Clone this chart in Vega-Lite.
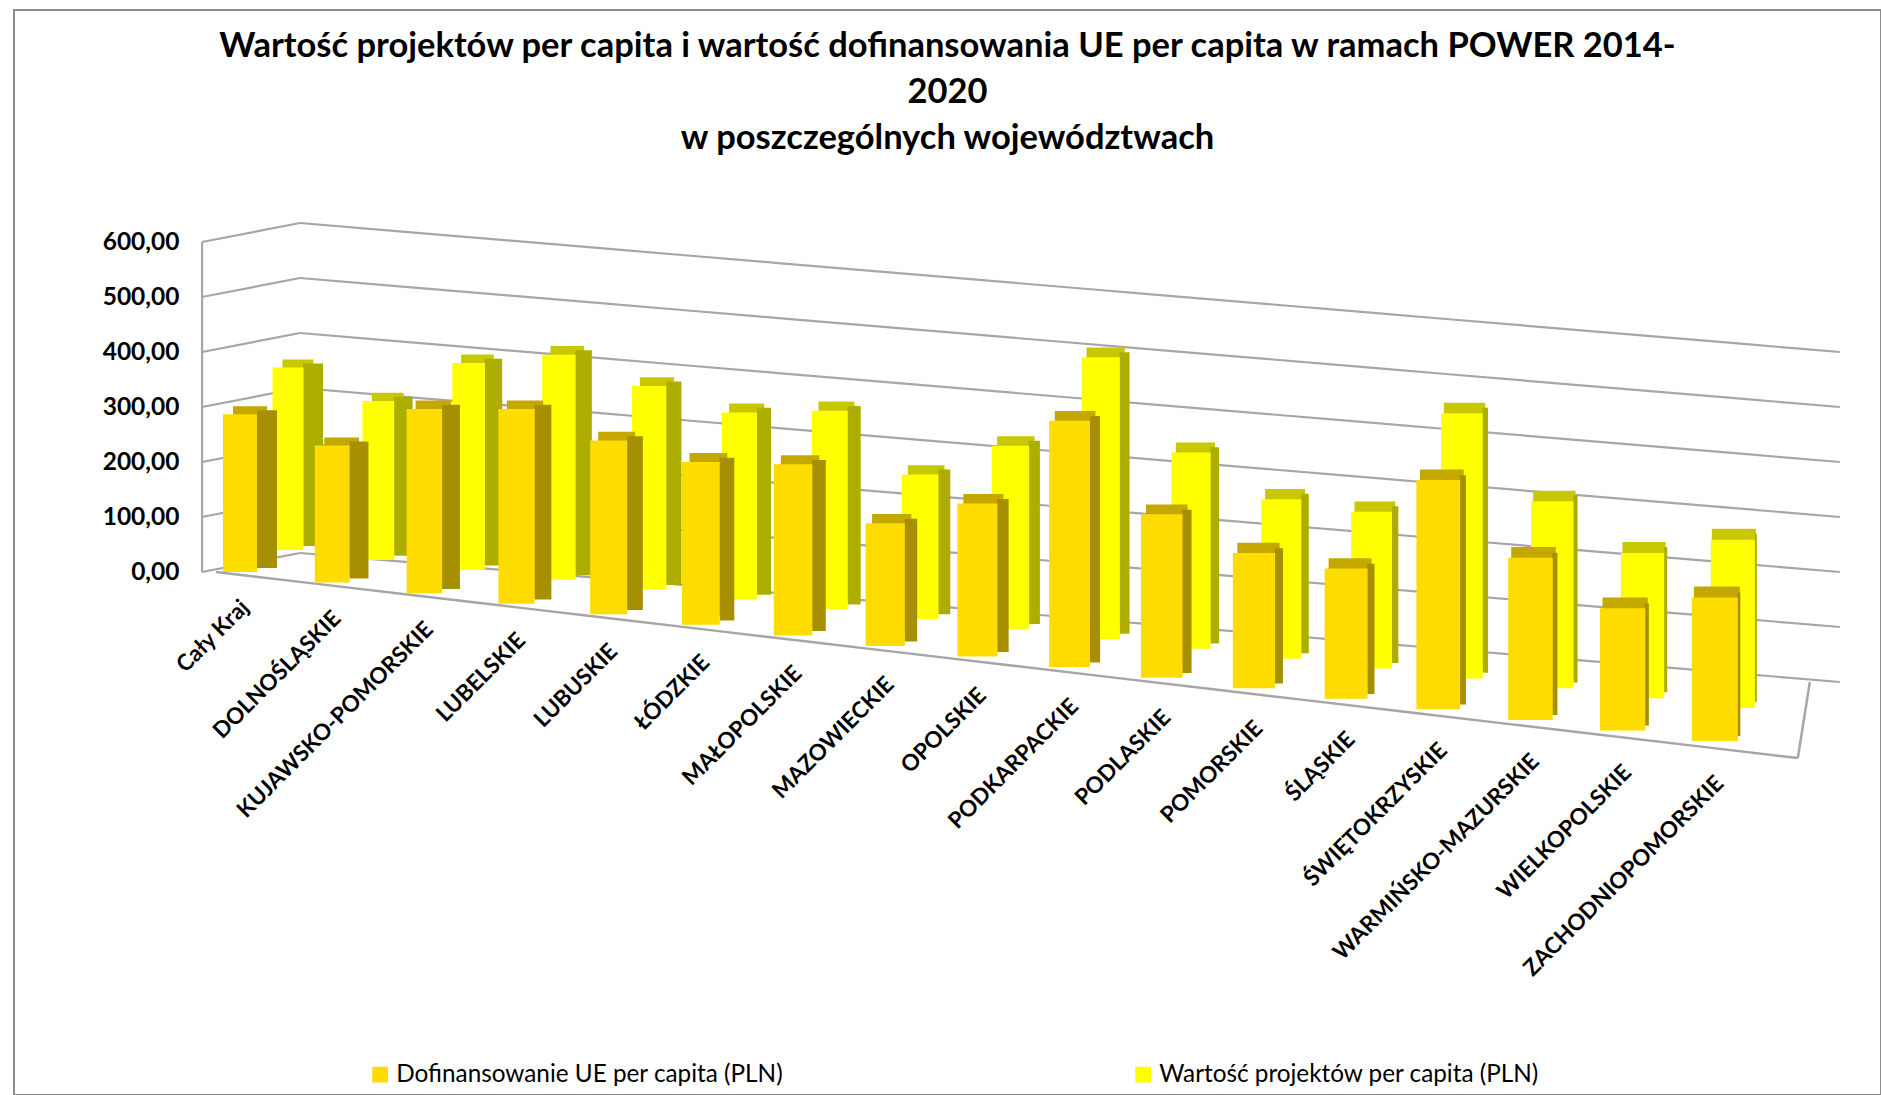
{"$schema":"https://vega.github.io/schema/vega-lite/v6.json","autosize":"none","width":1867,"height":1085,"padding":{"left":14,"top":10,"right":0,"bottom":0},"background":"white","config":{"view":{"stroke":"#8c8c8c","strokeWidth":2},"font":"Lato"},"title":{"text":["Wartość projektów per capita i wartość dofinansowania UE per capita w ramach POWER 2014-","2020","w poszczególnych województwach"],"fontSize":34.5,"font":"Lato","fontWeight":"bold","color":"#000000","lineHeight":46,"anchor":"middle","baseline":"top","offset":-146},"datasets":{"d":[{"w":"Cały Kraj","s":"Dofinansowanie UE per capita (PLN)","od":0,"v":287},{"w":"DOLNOŚLĄSKIE","s":"Dofinansowanie UE per capita (PLN)","od":0,"v":249},{"w":"KUJAWSKO-POMORSKIE","s":"Dofinansowanie UE per capita (PLN)","od":0,"v":335},{"w":"LUBELSKIE","s":"Dofinansowanie UE per capita (PLN)","od":0,"v":354},{"w":"LUBUSKIE","s":"Dofinansowanie UE per capita (PLN)","od":0,"v":316},{"w":"ŁÓDZKIE","s":"Dofinansowanie UE per capita (PLN)","od":0,"v":296},{"w":"MAŁOPOLSKIE","s":"Dofinansowanie UE per capita (PLN)","od":0,"v":311},{"w":"MAZOWIECKIE","s":"Dofinansowanie UE per capita (PLN)","od":0,"v":223},{"w":"OPOLSKIE","s":"Dofinansowanie UE per capita (PLN)","od":0,"v":278},{"w":"PODKARPACKIE","s":"Dofinansowanie UE per capita (PLN)","od":0,"v":448},{"w":"PODLASKIE","s":"Dofinansowanie UE per capita (PLN)","od":0,"v":297},{"w":"POMORSKIE","s":"Dofinansowanie UE per capita (PLN)","od":0,"v":246},{"w":"ŚLĄSKIE","s":"Dofinansowanie UE per capita (PLN)","od":0,"v":237},{"w":"ŚWIĘTOKRZYSKIE","s":"Dofinansowanie UE per capita (PLN)","od":0,"v":417},{"w":"WARMIŃSKO-MAZURSKIE","s":"Dofinansowanie UE per capita (PLN)","od":0,"v":295},{"w":"WIELKOPOLSKIE","s":"Dofinansowanie UE per capita (PLN)","od":0,"v":222},{"w":"ZACHODNIOPOMORSKIE","s":"Dofinansowanie UE per capita (PLN)","od":0,"v":261},{"w":"Cały Kraj","s":"Wartość projektów per capita (PLN)","od":0,"v":332},{"w":"DOLNOŚLĄSKIE","s":"Wartość projektów per capita (PLN)","od":0,"v":289},{"w":"KUJAWSKO-POMORSKIE","s":"Wartość projektów per capita (PLN)","od":0,"v":376},{"w":"LUBELSKIE","s":"Wartość projektów per capita (PLN)","od":0,"v":409},{"w":"LUBUSKIE","s":"Wartość projektów per capita (PLN)","od":0,"v":370},{"w":"ŁÓDZKIE","s":"Wartość projektów per capita (PLN)","od":0,"v":340},{"w":"MAŁOPOLSKIE","s":"Wartość projektów per capita (PLN)","od":0,"v":361},{"w":"MAZOWIECKIE","s":"Wartość projektów per capita (PLN)","od":0,"v":263},{"w":"OPOLSKIE","s":"Wartość projektów per capita (PLN)","od":0,"v":333},{"w":"PODKARPACKIE","s":"Wartość projektów per capita (PLN)","od":0,"v":512},{"w":"PODLASKIE","s":"Wartość projektów per capita (PLN)","od":0,"v":357},{"w":"POMORSKIE","s":"Wartość projektów per capita (PLN)","od":0,"v":290},{"w":"ŚLĄSKIE","s":"Wartość projektów per capita (PLN)","od":0,"v":285},{"w":"ŚWIĘTOKRZYSKIE","s":"Wartość projektów per capita (PLN)","od":0,"v":482},{"w":"WARMIŃSKO-MAZURSKIE","s":"Wartość projektów per capita (PLN)","od":0,"v":340},{"w":"WIELKOPOLSKIE","s":"Wartość projektów per capita (PLN)","od":0,"v":264},{"w":"ZACHODNIOPOMORSKIE","s":"Wartość projektów per capita (PLN)","od":0,"v":306}],"siatka":[{"p":"przod","l":0},{"p":"tyl","l":0},{"p":"przod","l":100},{"p":"tyl","l":100},{"p":"przod","l":200},{"p":"tyl","l":200},{"p":"przod","l":300},{"p":"tyl","l":300},{"p":"przod","l":400},{"p":"tyl","l":400},{"p":"przod","l":500},{"p":"tyl","l":500},{"p":"przod","l":600},{"p":"tyl","l":600}],"naroznik":[{"p":"przod"},{"p":"tyl"}]},"data":{"name":"d"},"resolve":{"scale":{"xOffset":"independent","yOffset":"independent","strokeWidth":"independent"}},"encoding":{"x":{"field":"w","type":"nominal","sort":null,"title":null,"scale":{"domain":["Cały Kraj","DOLNOŚLĄSKIE","KUJAWSKO-POMORSKIE","LUBELSKIE","LUBUSKIE","ŁÓDZKIE","MAŁOPOLSKIE","MAZOWIECKIE","OPOLSKIE","PODKARPACKIE","PODLASKIE","POMORSKIE","ŚLĄSKIE","ŚWIĘTOKRZYSKIE","WARMIŃSKO-MAZURSKIE","WIELKOPOLSKIE","ZACHODNIOPOMORSKIE"],"range":[180,1747],"paddingInner":0,"paddingOuter":0},"axis":null}},"layer":[
{"data":{"name":"siatka"},"mark":{"type":"line","color":"#a6a6a6","strokeWidth":2.2},"encoding":{"x":{"datum":"Cały Kraj"},"y":{"datum":{"expr":"datum.l"},"type":"quantitative","title":null,"scale":{"domain":[0,600],"range":[562,232],"nice":false},"axis":{"title":null,"values":[0,100,200,300,400,500,600],"orient":"left","offset":-167,"domain":false,"ticks":false,"grid":false,"labelExpr":"replace(format(datum.value,'.2f'),'.',',')","labelFont":"Lato","labelFontSize":24.5,"labelFontWeight":"bold","labelColor":"#000000"}},"detail":{"field":"l"},"xOffset":{"field":"p","type":"nominal","sort":null,"scale":{"type":"point","padding":0,"range":[8,106]}},"yOffset":{"field":"p","type":"nominal","sort":null,"scale":{"type":"point","padding":0,"range":[0,-19]}}}},
{"data":{"name":"siatka"},"transform":[{"filter":"datum.p=='przod'"}],"mark":{"type":"line","color":"#a6a6a6","strokeWidth":2.2,"xOffset":-38},"encoding":{"x":{"datum":"Cały Kraj"},"y":{"datum":{"expr":"datum.l"},"type":"quantitative","title":null}}},
{"data":{"name":"naroznik"},"mark":{"type":"line","color":"#a6a6a6","strokeWidth":2.5},"encoding":{"x":{"datum":"ZACHODNIOPOMORSKIE"},"y":{"datum":0,"type":"quantitative","title":null},"xOffset":{"field":"p","type":"nominal","sort":null,"scale":{"type":"point","padding":0,"range":[129,141]}},"yOffset":{"field":"p","type":"nominal","sort":null,"scale":{"type":"point","padding":0,"range":[186,110]}}}},
{"transform":[{"filter":"datum.s[0]=='D'"}],"mark":{"type":"line","color":"#a6a6a6","strokeWidth":2.2},"encoding":{"y":{"datum":0,"type":"quantitative","title":null},"xOffset":{"field":"w","type":"nominal","sort":null,"scale":{"type":"point","padding":0,"range":[106,171]}},"yOffset":{"field":"w","type":"nominal","sort":null,"scale":{"type":"point","padding":0,"range":[-19,110]}}}},
{"transform":[{"filter":"datum.s[0]=='D'"}],"mark":{"type":"line","color":"#a6a6a6","strokeWidth":2.2},"encoding":{"y":{"datum":100,"type":"quantitative","title":null},"xOffset":{"field":"w","type":"nominal","sort":null,"scale":{"type":"point","padding":0,"range":[106,171]}},"yOffset":{"field":"w","type":"nominal","sort":null,"scale":{"type":"point","padding":0,"range":[-19,110]}}}},
{"transform":[{"filter":"datum.s[0]=='D'"}],"mark":{"type":"line","color":"#a6a6a6","strokeWidth":2.2},"encoding":{"y":{"datum":200,"type":"quantitative","title":null},"xOffset":{"field":"w","type":"nominal","sort":null,"scale":{"type":"point","padding":0,"range":[106,171]}},"yOffset":{"field":"w","type":"nominal","sort":null,"scale":{"type":"point","padding":0,"range":[-19,110]}}}},
{"transform":[{"filter":"datum.s[0]=='D'"}],"mark":{"type":"line","color":"#a6a6a6","strokeWidth":2.2},"encoding":{"y":{"datum":300,"type":"quantitative","title":null},"xOffset":{"field":"w","type":"nominal","sort":null,"scale":{"type":"point","padding":0,"range":[106,171]}},"yOffset":{"field":"w","type":"nominal","sort":null,"scale":{"type":"point","padding":0,"range":[-19,110]}}}},
{"transform":[{"filter":"datum.s[0]=='D'"}],"mark":{"type":"line","color":"#a6a6a6","strokeWidth":2.2},"encoding":{"y":{"datum":400,"type":"quantitative","title":null},"xOffset":{"field":"w","type":"nominal","sort":null,"scale":{"type":"point","padding":0,"range":[106,171]}},"yOffset":{"field":"w","type":"nominal","sort":null,"scale":{"type":"point","padding":0,"range":[-19,110]}}}},
{"transform":[{"filter":"datum.s[0]=='D'"}],"mark":{"type":"line","color":"#a6a6a6","strokeWidth":2.2},"encoding":{"y":{"datum":500,"type":"quantitative","title":null},"xOffset":{"field":"w","type":"nominal","sort":null,"scale":{"type":"point","padding":0,"range":[106,171]}},"yOffset":{"field":"w","type":"nominal","sort":null,"scale":{"type":"point","padding":0,"range":[-19,110]}}}},
{"transform":[{"filter":"datum.s[0]=='D'"}],"mark":{"type":"line","color":"#a6a6a6","strokeWidth":2.2},"encoding":{"y":{"datum":600,"type":"quantitative","title":null},"xOffset":{"field":"w","type":"nominal","sort":null,"scale":{"type":"point","padding":0,"range":[106,171]}},"yOffset":{"field":"w","type":"nominal","sort":null,"scale":{"type":"point","padding":0,"range":[-19,110]}}}},
{"transform":[{"filter":"datum.s[0]=='D'"}],"mark":{"type":"line","color":"#a6a6a6","strokeWidth":2.5},"encoding":{"y":{"datum":0,"type":"quantitative","title":null},"xOffset":{"field":"w","type":"nominal","sort":null,"scale":{"type":"point","padding":0,"range":[22,129]}},"yOffset":{"field":"w","type":"nominal","sort":null,"scale":{"type":"point","padding":0,"range":[0,186]}}}},
{"transform":[{"filter":"datum.s[0]=='W'"},{"fold":["od","v"],"as":["k","y"]}],"mark":{"type":"line","color":"#C8C800"},"encoding":{"y":{"datum":{"expr":"datum.y"},"type":"quantitative","title":null},"detail":{"field":"w"},"strokeWidth":{"field":"w","type":"nominal","sort":null,"legend":null,"scale":{"type":"point","padding":0,"range":[31,44]}},"xOffset":{"field":"w","type":"nominal","sort":null,"scale":{"type":"point","padding":0,"range":[104,65]}},"yOffset":{"field":"w","type":"nominal","sort":null,"scale":{"type":"point","padding":0,"range":[-30,125]}}}},
{"transform":[{"filter":"datum.s[0]=='W'"},{"fold":["od","v"],"as":["k","y"]}],"mark":{"type":"line","color":"#ADAD00"},"encoding":{"y":{"datum":{"expr":"datum.y"},"type":"quantitative","title":null},"detail":{"field":"w"},"strokeWidth":{"field":"w","type":"nominal","sort":null,"legend":null,"scale":{"type":"point","padding":0,"range":[20,2]}},"xOffset":{"field":"w","type":"nominal","sort":null,"scale":{"type":"point","padding":0,"range":[119,87]}},"yOffset":{"field":"w","type":"nominal","sort":null,"scale":{"type":"point","padding":0,"range":[-26,130]}}}},
{"transform":[{"filter":"datum.s[0]=='W'"},{"fold":["od","v"],"as":["k","y"]}],"mark":{"type":"line"},"encoding":{"y":{"datum":{"expr":"datum.y"},"type":"quantitative","title":null},"detail":{"field":"w"},"color":{"field":"s","type":"nominal","title":null,"scale":{"domain":["Dofinansowanie UE per capita (PLN)","Wartość projektów per capita (PLN)"],"range":["#FFDC00","#FFFF00"]},"legend":{"orient":"none","legendX":354,"legendY":1052,"direction":"horizontal","columns":2,"columnPadding":339,"symbolType":"square","symbolSize":60,"symbolStrokeWidth":8,"labelFont":"Lato","labelFontSize":24.3,"labelColor":"#000000","labelLimit":500}},"strokeWidth":{"field":"w","type":"nominal","sort":null,"legend":null,"scale":{"type":"point","padding":0,"range":[31,44]}},"xOffset":{"field":"w","type":"nominal","sort":null,"scale":{"type":"point","padding":0,"range":[94,64]}},"yOffset":{"field":"w","type":"nominal","sort":null,"scale":{"type":"point","padding":0,"range":[-22,136]}}}},
{"transform":[{"filter":"datum.s[0]=='D'"},{"fold":["od","v"],"as":["k","y"]}],"mark":{"type":"line","color":"#C4A800"},"encoding":{"y":{"datum":{"expr":"datum.y"},"type":"quantitative","title":null},"detail":{"field":"w"},"strokeWidth":{"field":"w","type":"nominal","sort":null,"legend":null,"scale":{"type":"point","padding":0,"range":[34,46]}},"xOffset":{"field":"w","type":"nominal","sort":null,"scale":{"type":"point","padding":0,"range":[56,48]}},"yOffset":{"field":"w","type":"nominal","sort":null,"scale":{"type":"point","padding":0,"range":[-8,158]}}}},
{"transform":[{"filter":"datum.s[0]=='D'"},{"fold":["od","v"],"as":["k","y"]}],"mark":{"type":"line","color":"#A68F00"},"encoding":{"y":{"datum":{"expr":"datum.y"},"type":"quantitative","title":null},"detail":{"field":"w"},"strokeWidth":{"field":"w","type":"nominal","sort":null,"legend":null,"scale":{"type":"point","padding":0,"range":[20,3]}},"xOffset":{"field":"w","type":"nominal","sort":null,"scale":{"type":"point","padding":0,"range":[73,70]}},"yOffset":{"field":"w","type":"nominal","sort":null,"scale":{"type":"point","padding":0,"range":[-4,164]}}}},
{"transform":[{"filter":"datum.s[0]=='D'"},{"fold":["od","v"],"as":["k","y"]}],"mark":{"type":"line"},"encoding":{"y":{"datum":{"expr":"datum.y"},"type":"quantitative","title":null},"detail":{"field":"w"},"color":{"field":"s","type":"nominal","title":null},"strokeWidth":{"field":"w","type":"nominal","sort":null,"legend":null,"scale":{"type":"point","padding":0,"range":[34,46]}},"xOffset":{"field":"w","type":"nominal","sort":null,"scale":{"type":"point","padding":0,"range":[46,46]}},"yOffset":{"field":"w","type":"nominal","sort":null,"scale":{"type":"point","padding":0,"range":[0,169]}}}},
{"transform":[{"filter":"datum.s[0]=='D'"}],"mark":{"type":"text","angle":315,"align":"right","baseline":"middle","font":"Lato","fontWeight":"bold","fontSize":22.5,"color":"#000000","xOffset":5},"encoding":{"y":{"datum":0,"type":"quantitative","title":null},"text":{"field":"w"},"yOffset":{"field":"w","type":"nominal","sort":null,"scale":{"type":"point","padding":0,"range":[32,208]}}}}
]}
